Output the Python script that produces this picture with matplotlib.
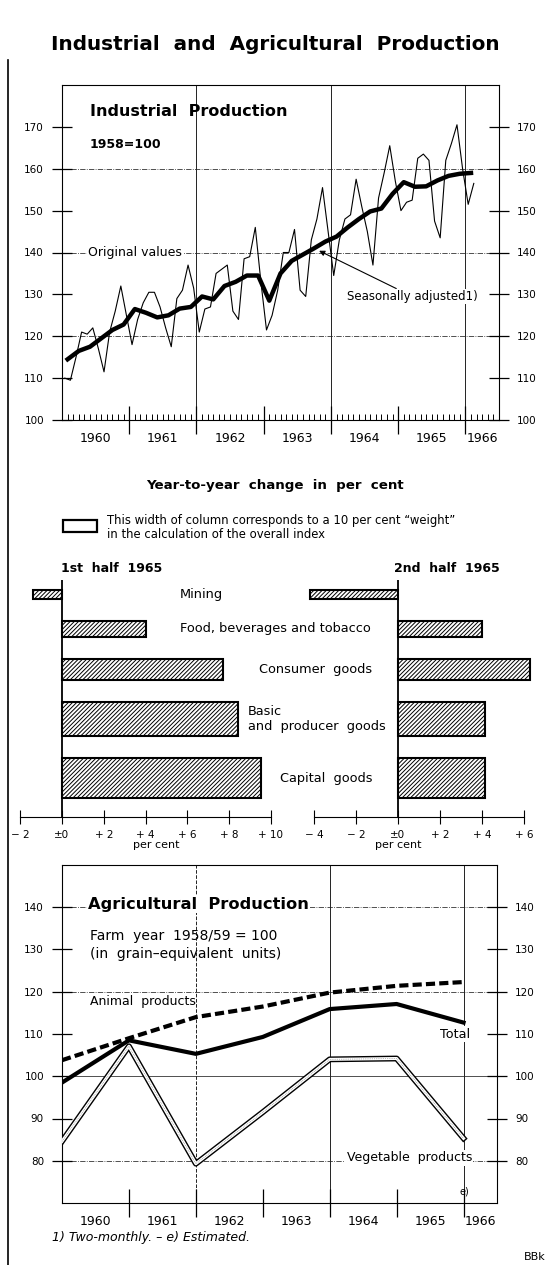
import matplotlib
matplotlib.use("Agg")
import matplotlib.pyplot as plt
import matplotlib.transforms as mtransforms
from matplotlib.lines import Line2D
from matplotlib.patches import Rectangle
import numpy as np

plt.rcParams["font.family"] = ["DejaVu Sans"]
plt.rcParams["hatch.linewidth"] = 0.7

W, H = 550, 1265

# Industrial production, 1958 = 100, monthly original values Jan 1960 - Feb 1966
orig_values = [
    110, 109.5, 115, 121, 120.5, 122, 117, 111.5, 121, 126, 132, 125,
    118, 124, 128, 130.5, 130.5, 127, 122, 117.5, 129, 131, 137, 131.5,
    121, 126.5, 127, 135, 136, 137, 126, 124, 138.5, 139, 146, 133,
    121.5, 125, 131, 140, 140, 145.5, 131, 129.5, 143, 148, 155.5, 145,
    134.5, 143, 148, 149, 157.5, 151, 145, 137, 153, 159, 165.5, 157,
    150, 152, 152.5, 162.5, 163.5, 162, 147.5, 143.5, 162, 166, 170.5, 160,
    151.5, 156.5,
]
# seasonally adjusted, two-monthly Jan/Feb 1960 - Jan/Feb 1966
sa_values = [
    114.5, 116.5, 117.5, 119.5, 121.5, 122.8,
    126.5, 125.6, 124.5, 125, 126.6, 127,
    129.5, 128.8, 132, 133, 134.5, 134.5,
    128.5, 135, 138, 139.5, 141, 142.6,
    143.8, 146, 148, 149.8, 150.5, 154,
    156.8, 155.7, 155.8, 157.2, 158.3, 158.8,
    159,
]
year_labels = ["1960", "1961", "1962", "1963", "1964", "1965", "1966"]

# year-to-year change in per cent, with weights in the overall index
sectors = ["Mining", "Food, beverages and tobacco", "Consumer  goods",
           "Basic\nand  producer  goods", "Capital  goods"]
weights = [7.5, 13, 17.5, 29, 33]
change_h1_1965 = [-1.4, 4.0, 7.7, 8.4, 9.5]
change_h2_1965 = [-4.2, 4.0, 6.3, 4.15, 4.15]

# agricultural production, farm year 1958/59 = 100
farm_years = [1960, 1961, 1962, 1963, 1964, 1965, 1966]
animal_products = [103.8, 109, 114, 116.5, 119.8, 121.4, 122.3]
total_agri = [98.5, 108.5, 105.3, 109.3, 115.9, 117.1, 112.7]
vegetable_products = [84.6, 107.1, 79.3, 91.5, 104, 104.2, 85.3]


def fx(x):
    return x / W


def fy(y):
    return 1 - y / H


def style_time_axis(ax, yticks, minor_months):
    ax.set_xlim(1960, 1966.5)
    ax.set_xticks(range(1961, 1967))
    ax.set_xticklabels([])
    ax.tick_params(axis="x", which="major", direction="inout", length=20, width=0.9)
    if minor_months:
        ax.set_xticks(1960 + np.arange(1, 78) / 12, minor=True)
        ax.tick_params(axis="x", which="minor", direction="in", length=4, width=0.7)
    ax.set_yticks(yticks)
    ax.yaxis.set_ticks_position("both")
    ax.tick_params(axis="y", direction="inout", length=14, width=0.9,
                   labelright=True, labelsize=7.5, pad=6)
    for tick in ax.yaxis.get_major_ticks():
        if tick.get_loc() == 100:
            for lab in (tick.label1, tick.label2):
                lab.set_fontsize(9)
                lab.set_fontweight("bold")
    trans = mtransforms.blended_transform_factory(ax.transData, ax.transAxes)
    for i, lab in enumerate(year_labels):
        xc = 1960 + i + (0.5 if i < 6 else 0.25)
        ax.text(xc, -0.055, lab, transform=trans, ha="center", va="center", fontsize=9)
    for s in ax.spines.values():
        s.set_linewidth(0.8)


fig = plt.figure(figsize=(W / 100, H / 100), dpi=100)

fig.text(fx(275), fy(45), "Industrial  and  Agricultural  Production", ha="center", va="center",
         fontsize=14.4, fontweight="bold")
fig.add_artist(Line2D([fx(8), fx(8)], [fy(60), fy(1265)], color="black", lw=1.2))

# ---- industrial production
ax1 = fig.add_axes([fx(62), fy(420), 437 / W, 335 / H])
t_month = 1960 + (np.arange(len(orig_values)) + 0.5) / 12
t_bimonth = 1960 + (np.arange(len(sa_values)) + 0.5) / 6
for yv in (120, 140, 160):
    ax1.axhline(yv, color="#333333", lw=0.6, ls="-.", zorder=1)
for xv in (1962, 1964, 1966):
    ax1.axvline(xv, color="#222222", lw=0.7, zorder=1)
ax1.plot(t_month, orig_values, color="black", lw=0.8, zorder=3)
ax1.plot(t_bimonth, sa_values, color="black", lw=3.2, solid_joinstyle="round", zorder=4)
ax1.set_ylim(100, 180)
style_time_axis(ax1, range(100, 171, 10), True)

fig.text(fx(90), fy(112), "Industrial  Production", fontsize=11.5, fontweight="bold", va="center")
fig.text(fx(90), fy(145), "1958=100", fontsize=9, fontweight="bold", va="center")
ax1.text(1960.39, 140, "Original values", fontsize=9, va="center", ha="left", zorder=5,
         bbox=dict(facecolor="white", edgecolor="none", pad=1))
ax1.annotate("Seasonally adjusted1)", xy=(t_bimonth[22], sa_values[22]), xytext=(1964.24, 129.5),
             fontsize=8.5, va="center", ha="left", zorder=5,
             bbox=dict(facecolor="white", edgecolor="none", pad=1),
             arrowprops=dict(arrowstyle="-|>", color="black", lw=0.8, mutation_scale=8,
                             shrinkA=0, shrinkB=4))

# ---- year-to-year change
fig.text(fx(275), fy(485), "Year-to-year  change  in  per  cent", ha="center", va="center",
         fontsize=9.6, fontweight="bold")
px_per_weight = 1.2
fig.add_artist(Rectangle((fx(63), fy(532)), 34 / W, 10 * px_per_weight / H,
                         facecolor="white", edgecolor="black", lw=1.6,
                         transform=fig.transFigure))
fig.text(fx(107), fy(520), "This width of column corresponds to a 10 per cent \u201cweight\u201d",
         fontsize=8.4, va="center")
fig.text(fx(107), fy(535), "in the calculation of the overall index", fontsize=8.4, va="center")
fig.text(fx(61), fy(568), "1st  half  1965", fontsize=9, fontweight="bold", va="center")
fig.text(fx(394), fy(568), "2nd  half  1965", fontsize=9, fontweight="bold", va="center")

gap = 22
tops = []
top = 10
for w in weights:
    tops.append(top)
    top += w * px_per_weight + gap
heights = [w * px_per_weight for w in weights]
centers = [t + h / 2 for t, h in zip(tops, heights)]


def bar_panel(x0, x1, zero_px, px_per_unit, values, lo, hi):
    ax = fig.add_axes([fx(x0), fy(817), (x1 - x0) / W, 237 / H])
    ax.set_xlim((x0 - zero_px) / px_per_unit, (x1 - zero_px) / px_per_unit)
    ax.set_ylim(237, 0)
    ax.barh(centers, values, height=heights, facecolor="white", edgecolor="black",
            lw=1.5, hatch="////////", zorder=3)
    ax.axvline(0, color="black", lw=1.3, zorder=4)
    for s in ("left", "right", "top"):
        ax.spines[s].set_visible(False)
    ax.spines["bottom"].set_bounds(lo, hi)
    ax.spines["bottom"].set_linewidth(0.8)
    ticks = list(range(lo, hi + 1, 2))
    ax.set_xticks(ticks)
    ax.set_xticklabels(["\u00b10" if t == 0 else ("+ %d" % t if t > 0 else "\u2212 %d" % -t)
                        for t in ticks], fontsize=7.5)
    ax.tick_params(axis="x", direction="inout", length=10, width=0.8, pad=4)
    ax.set_yticks([])
    ax.patch.set_alpha(0)
    return ax


bar_panel(5, 285, 62, 20.9, change_h1_1965, -2, 10)
bar_panel(290, 545, 398, 21, change_h2_1965, -4, 6)
fig.text(fx(156), fy(845), "per cent", fontsize=8, ha="center", va="center")
fig.text(fx(398), fy(845), "per cent", fontsize=8, ha="center", va="center")

label_pos = [(201, "center"), (275, "center"), (316, "center"), (248, "left"), (326, "center")]
for name, c, (xp, ha) in zip(sectors, centers, label_pos):
    fig.text(fx(xp), fy(580 + c), name, fontsize=9.3, ha=ha, va="center", linespacing=1.25)

# ---- agricultural production
ax3 = fig.add_axes([fx(62), fy(1203), 435 / W, 338 / H])
for yv, ls in ((80, "-."), (100, "-"), (120, "-."), (140, "-.")):
    ax3.axhline(yv, color="#333333", lw=0.6, ls=ls, zorder=1)
for xv, ls in ((1962, "--"), (1964, "-"), (1966, "-")):
    ax3.axvline(xv, color="#222222", lw=0.7, ls=ls, zorder=1)
ax3.plot(farm_years, vegetable_products, color="black", lw=4.2, zorder=3)
ax3.plot(farm_years, vegetable_products, color="white", lw=2.2, zorder=3)
ax3.plot(farm_years, vegetable_products, color="#777777", lw=0.5, ls=":", zorder=3)
ax3.plot(farm_years, total_agri, color="black", lw=3, zorder=4)
ax3.plot(farm_years, animal_products, color="black", lw=3, dashes=(2.2, 1.0), zorder=4)
ax3.set_ylim(70, 150)
style_time_axis(ax3, range(80, 141, 10), False)

fig.text(fx(88), fy(904), "Agricultural  Production", fontsize=11.7, fontweight="bold", va="center",
         bbox=dict(facecolor="white", edgecolor="none", pad=1))
fig.text(fx(90), fy(936), "Farm  year  1958/59 = 100", fontsize=10, va="center")
fig.text(fx(90), fy(954), "(in  grain\u2013equivalent  units)", fontsize=10, va="center")
fig.text(fx(90), fy(1002), "Animal  products", fontsize=9, va="center")
fig.text(fx(470), fy(1034), "Total", fontsize=9.2, va="center", ha="right",
         bbox=dict(facecolor="white", edgecolor="none", pad=1))
fig.text(fx(472), fy(1158), "Vegetable  products", fontsize=9, va="center", ha="right",
         bbox=dict(facecolor="white", edgecolor="none", pad=1))
fig.text(fx(464), fy(1191), "e)", fontsize=7, va="center", ha="center")

fig.text(fx(52), fy(1238), "1) Two-monthly. \u2013 e) Estimated.", fontsize=9, style="italic", va="center")
fig.text(fx(535), fy(1257), "BBk", fontsize=8, va="center", ha="center")

fig.savefig("out.png", dpi=100)
